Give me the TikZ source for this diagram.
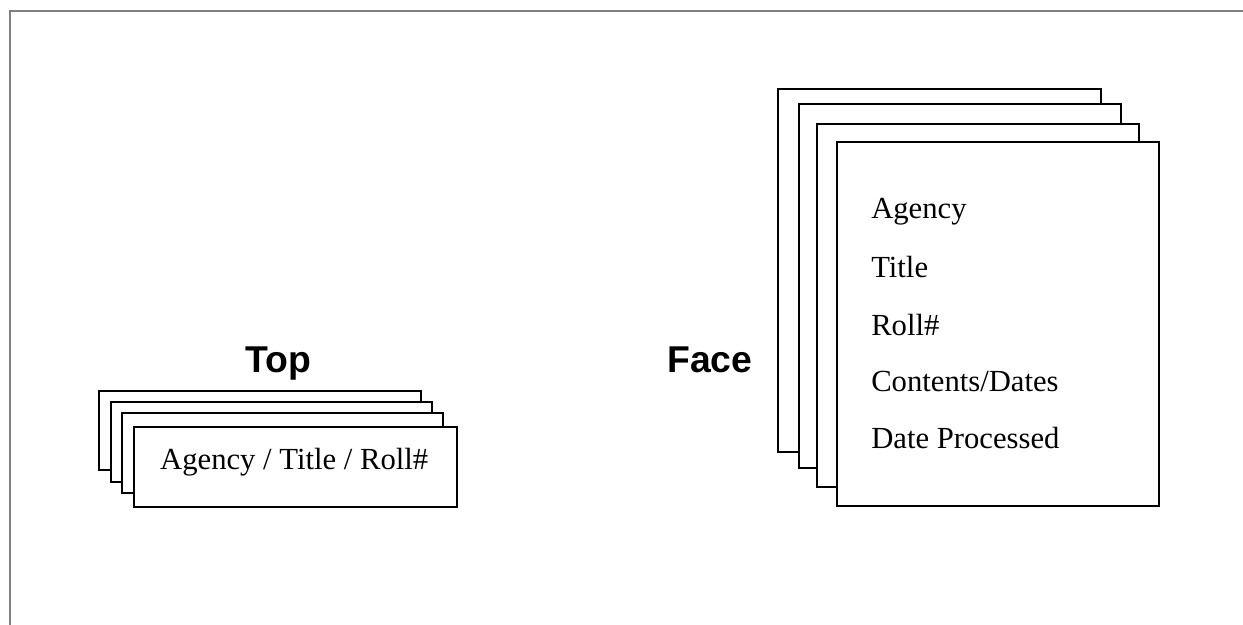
\documentclass[tikz,border=0pt]{standalone}
\usepackage{fontspec}
\setmainfont{Liberation Serif}
\newfontfamily\hsans{Liberation Sans}
\tikzset{
  sheet/.style={draw=black, fill=white, line width=1.5pt},
  frameline/.style={draw=gray, line width=1.5pt},
  body/.style={inner sep=0pt, font=\fontsize{23}{27}\selectfont},
  heading/.style={inner sep=0pt, font=\hsans\bfseries\fontsize{28}{33}\selectfont}
}
\begin{document}
\begin{tikzpicture}[x=0.75pt,y=-0.75pt]
\useasboundingbox (0,0) rectangle (1243,625);
% frame
\coordinate (f1) at (10,625);
\coordinate (f2) at (10,10.5);
\coordinate (f3) at (1243,10.5);
\draw[frameline] (f1) -- (f2) -- (f3);
% top stack
\draw[sheet] (98.5,391) rectangle (421,470);
\draw[sheet] (110.7,402) rectangle (431.7,481.7);
\draw[sheet] (121.7,413.3) rectangle (443.3,493.3);
\draw[sheet] (134.3,426.7) rectangle (456.7,506.7);
\node[body, anchor=base] (toptext) at (294.2,469.3) {Agency / Title / Roll\#};
\node[heading, anchor=base] (toplabel) at (278.7,372) {Top};
% face stack
\draw[sheet] (778.3,89) rectangle (1100.7,451.7);
\draw[sheet] (798.7,104) rectangle (1121,467.7);
\draw[sheet] (816.7,123.7) rectangle (1138.7,487);
\draw[sheet] (836.7,142) rectangle (1159,505.7);
\node[heading, anchor=base west] (facelabel) at (667,372) {Face};
\node[body, anchor=base west] (fagency) at (871,218.5) {Agency};
\node[body, anchor=base west] (ftitle) at (871,277) {Title};
\node[body, anchor=base west] (froll) at (871,335.5) {Roll\#};
\node[body, anchor=base west] (fcontents) at (871,391.5) {Contents/Dates};
\node[body, anchor=base west] (fdate) at (871,448.5) {Date Processed};
\end{tikzpicture}
\end{document}
